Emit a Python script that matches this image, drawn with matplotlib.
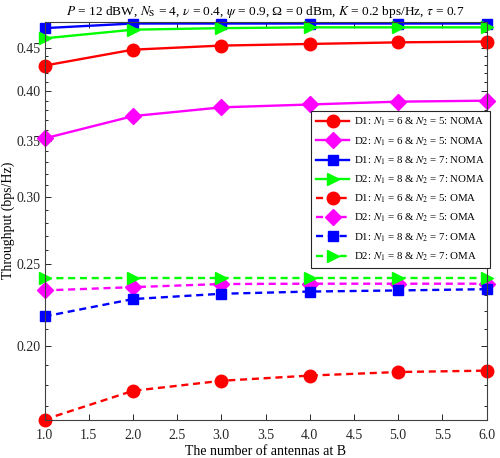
import matplotlib
matplotlib.use("Agg")
import matplotlib.pyplot as plt
from matplotlib.ticker import FixedLocator, FormatStrFormatter, NullFormatter

plt.rcParams["font.family"] = ["Liberation Serif", "DejaVu Serif"]
plt.rcParams["mathtext.fontset"] = "stix"

antenas = [1, 2, 3, 4, 5, 6]

# NOMA
d1_65_noma = [0.429, 0.448, 0.453, 0.455, 0.457, 0.458]
d2_65_noma = [0.352, 0.374, 0.383, 0.386, 0.389, 0.390]
d1_87_noma = [0.475, 0.481, 0.481, 0.481, 0.481, 0.481]
d2_87_noma = [0.462, 0.473, 0.475, 0.476, 0.476, 0.476]
# OMA
d1_65_oma = [0.164, 0.1773, 0.1822, 0.1848, 0.1866, 0.1873]
d2_65_oma = [0.2329, 0.2350, 0.2370, 0.2372, 0.2372, 0.2372]
d1_87_oma = [0.217, 0.2275, 0.2308, 0.2322, 0.2329, 0.2337]
d2_87_oma = [0.2408, 0.2409, 0.2409, 0.2409, 0.2409, 0.2409]

ticks_y = [0.20, 0.25, 0.30, 0.35, 0.40, 0.45]
ticks_x = [1.0, 1.5, 2.0, 2.5, 3.0, 3.5, 4.0, 4.5, 5.0, 5.5, 6.0]

series = [
    (d1_65_noma, "#ff0000", "o", "-", "D1: $N_1$ = 6 & $N_2$ = 5: NOMA"),
    (d2_65_noma, "#ff00ff", "D", "-", "D2: $N_1$ = 6 & $N_2$ = 5: NOMA"),
    (d1_87_noma, "#0000ff", "s", "-", "D1: $N_1$ = 8 & $N_2$ = 7: NOMA"),
    (d2_87_noma, "#00ff00", ">", "-", "D2: $N_1$ = 8 & $N_2$ = 7: NOMA"),
    (d1_65_oma, "#ff0000", "o", "--", "D1: $N_1$ = 6 & $N_2$ = 5: OMA"),
    (d2_65_oma, "#ff00ff", "D", "--", "D2: $N_1$ = 6 & $N_2$ = 5: OMA"),
    (d1_87_oma, "#0000ff", "s", "--", "D1: $N_1$ = 8 & $N_2$ = 7: OMA"),
    (d2_87_oma, "#00ff00", ">", "--", "D2: $N_1$ = 8 & $N_2$ = 7: OMA"),
]
tam = {"o": 9, "D": 8.5, "s": 7.5, ">": 9}

fig = plt.figure(figsize=(5.0, 4.58), dpi=100)
ax = fig.add_axes([0.089, 0.084, 0.884, 0.868])

for vals, color, mk, ls, label in series:
    ax.plot(antenas, vals, color=color, linestyle=ls, linewidth=1.7,
            marker=mk, markersize=tam[mk], label=label, clip_on=False,
            dashes=(3, 2) if ls == "--" else (None, None))

ax.set_yscale("log")
ax.set_xlim(1, 6)
ax.set_ylim(0.164, 0.483)
ax.yaxis.set_major_locator(FixedLocator(ticks_y))
ax.yaxis.set_major_formatter(FormatStrFormatter("%.2f"))
ax.yaxis.set_minor_locator(FixedLocator([0.16 + 0.01 * i for i in range(33)]))
ax.yaxis.set_minor_formatter(NullFormatter())
ax.set_xticks(ticks_x)
ax.xaxis.set_major_formatter(FormatStrFormatter("%.1f"))

ax.tick_params(which="both", direction="in", top=True, right=True,
               labelsize=10, colors="#262626", labelcolor="#262626")
ax.tick_params(which="major", length=4, width=0.7)
ax.tick_params(axis="x", which="major", pad=7)
ax.tick_params(axis="y", which="major", pad=3)
ax.tick_params(which="minor", length=2.5, width=0.7)
for s in ax.spines.values():
    s.set_color("#404040")
    s.set_linewidth(0.8)

ax.set_xlabel("The number of antennas at B", fontsize=10, labelpad=2)
ax.set_ylabel("Throughput (bps/Hz)", fontsize=10, labelpad=1)
ax.set_title(r"$P$ = 12 dBW, $N_{\mathrm{S}}$ = 4, $\nu$ = 0.4, $\psi$ = 0.9, "
             r"Ω = 0 dBm, $K$ = 0.2 bps/Hz, $\tau$ = 0.7", fontsize=9.6, pad=5)

leg = ax.legend(loc="upper right", bbox_to_anchor=(1.008, 0.776), fontsize=7.8,
                handlelength=3.0, labelspacing=0.62, borderpad=0.45,
                handletextpad=0.5, borderaxespad=0, fancybox=False,
                framealpha=1, edgecolor="#262626")
leg.get_frame().set_linewidth(0.8)

fig.savefig("out.png", dpi=100)
